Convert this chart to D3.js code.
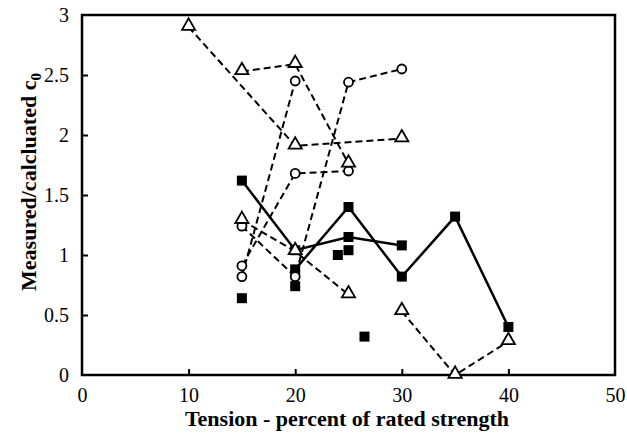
<!DOCTYPE html>
<html>
<head>
<meta charset="utf-8">
<script src="https://cdn.jsdelivr.net/npm/d3@7"></script>
<style>
  body { margin: 0; background: #fff; }
  text { font-family: "Liberation Serif", "Times New Roman", serif; fill: #000; }
</style>
</head>
<body>
<div id="chart"></div>
<script>
// x = tension (% of rated strength), y = measured / calculated c0
var xTicks = [0, 10, 20, 30, 40, 50];
var yTicks = [0, 0.5, 1, 1.5, 2, 2.5, 3];

// solid lines, filled squares
var solidA = [[15, 1.62], [20, 1.04], [25, 1.15], [30, 1.08]];
var solidB = [[20, 0.88], [25, 1.40], [30, 0.82], [35, 1.32], [40, 0.40]];
var looseSquares = [[15, 0.64], [20, 0.74], [24, 1.00], [25, 1.04], [26.5, 0.32]];

// dashed lines, open triangles
var triA = [[10, 2.90], [20, 1.91], [30, 1.97]];
var triB = [[15, 2.53], [20, 2.59], [25, 1.76]];
var triC = [[15, 1.29], [20, 1.03], [25, 0.67]];
var triD = [[30, 0.53], [35, 0.00], [40, 0.28]];

// dashed lines, open circles
var circA = [[15, 0.82], [20, 2.45]];
var circB = [[15, 0.91], [20, 1.68], [25, 1.70]];
var circC = [[15, 1.24], [20, 0.82], [25, 2.44], [30, 2.55]];

var W = 627, H = 437;
var margin = { top: 15, right: 12, bottom: 62, left: 82 };
var width = W - margin.left - margin.right;
var height = H - margin.top - margin.bottom;

var svg = d3.select("#chart").append("svg")
  .attr("width", W)
  .attr("height", H);

var g = svg.append("g")
  .attr("transform", "translate(" + margin.left + "," + margin.top + ")");

var x = d3.scaleLinear().domain([0, 50]).range([0, width]);
var y = d3.scaleLinear().domain([0, 3]).range([height, 0]);

var line = d3.line()
  .x(function (d) { return x(d[0]); })
  .y(function (d) { return y(d[1]); });

// axes, ticks point inward
var xAxis = g.append("g")
  .attr("transform", "translate(0," + height + ")")
  .call(d3.axisBottom(x).tickValues(xTicks).tickSize(-6).tickPadding(13).tickFormat(d3.format("d")));
var yAxis = g.append("g")
  .call(d3.axisLeft(y).tickValues(yTicks).tickSize(-6).tickPadding(13).tickFormat(function (d) { return String(d); }));

[xAxis, yAxis].forEach(function (a) {
  a.attr("font-family", "Liberation Serif, serif").attr("font-size", 20);
  a.select(".domain").remove();
  a.selectAll(".tick line").attr("stroke", "#000").attr("stroke-width", 2);
  a.selectAll(".tick text").attr("fill", "#000").style("font-family", "Liberation Serif");
});
xAxis.selectAll(".tick").filter(function (d) { return d === 0 || d === 50; }).select("line").remove();
yAxis.selectAll(".tick").filter(function (d) { return d === 0 || d === 3; }).select("line").remove();

// frame
g.append("rect")
  .attr("x", 0).attr("y", 0)
  .attr("width", width).attr("height", height)
  .attr("fill", "none")
  .attr("stroke", "#000")
  .attr("stroke-width", 2.5);

// lines
[triA, triB, triC, triD, circA, circB, circC].forEach(function (s) {
  g.append("path")
    .datum(s)
    .attr("d", line)
    .attr("fill", "none")
    .attr("stroke", "#000")
    .attr("stroke-width", 2)
    .attr("stroke-dasharray", "7,4");
});
[solidA, solidB].forEach(function (s) {
  g.append("path")
    .datum(s)
    .attr("d", line)
    .attr("fill", "none")
    .attr("stroke", "#000")
    .attr("stroke-width", 2.5);
});

// markers
var squares = solidA.concat(solidB, looseSquares);
g.selectAll(".sq")
  .data(squares)
  .enter().append("rect")
  .attr("class", "sq")
  .attr("x", function (d) { return x(d[0]) - 5; })
  .attr("y", function (d) { return y(d[1]) - 5; })
  .attr("width", 10)
  .attr("height", 10)
  .attr("fill", "#000");

var circles = circA.concat(circB, circC);
g.selectAll(".dot")
  .data(circles)
  .enter().append("circle")
  .attr("class", "dot")
  .attr("cx", function (d) { return x(d[0]); })
  .attr("cy", function (d) { return y(d[1]); })
  .attr("r", 4.5)
  .attr("fill", "#fff")
  .attr("stroke", "#000")
  .attr("stroke-width", 1.8);

var triangles = triA.concat(triB, triC, triD);
var tri = d3.symbol().type(d3.symbolTriangle).size(75);
g.selectAll(".tri")
  .data(triangles)
  .enter().append("path")
  .attr("class", "tri")
  .attr("d", tri)
  .attr("transform", function (d) { return "translate(" + x(d[0]) + "," + (y(d[1]) - 1) + ")"; })
  .attr("fill", "#fff")
  .attr("stroke", "#000")
  .attr("stroke-width", 1.8);

// axis titles
svg.append("text")
  .attr("x", 347)
  .attr("y", 426)
  .attr("text-anchor", "middle")
  .style("font-size", "22px")
  .style("font-weight", "bold")
  .text("Tension - percent of rated strength");

var yl = svg.append("text")
  .attr("transform", "translate(36," + 182 + ") rotate(-90)")
  .attr("text-anchor", "middle")
  .style("font-size", "22px")
  .style("font-weight", "bold");
yl.append("tspan").text("Measured/calcluated  c");
yl.append("tspan").attr("dy", 5).style("font-size", "15px").text("0");
</script>
</body>
</html>
